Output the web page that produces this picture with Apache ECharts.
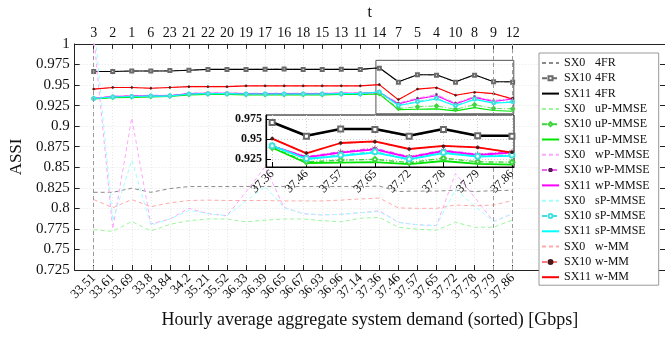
<!DOCTYPE html>
<html><head><meta charset="utf-8">
<script src="https://cdn.jsdelivr.net/npm/echarts@6/dist/echarts.min.js"></script>
<style>html,body{margin:0;padding:0;background:#fff}#c{width:665px;height:337px}</style>
</head><body><div id="c"></div>
<script>
// ---------- data ----------
const demand = ['33.51','33.61','33.69','33.8','33.84','34.2','35.21','35.52','36.33','36.39','36.65','36.67','36.93','36.96','37.14','37.36','37.46','37.57','37.65','37.72','37.78','37.79','37.86'];
const hours = [3,2,1,6,23,21,22,20,19,17,16,18,15,13,11,14,7,5,4,10,8,9,12];
const yTicks = [0.925, 0.95, 0.975];          // inset y tick labels
const markedIdx = [1, 22, 23];                 // dashed vertical markers (category number)
const zoomFrom = 16;                           // first category shown in inset
const zoomY = [0.915, 0.98];                   // inset y limits

const sx0_4FR  = [0.8195,0.8195,0.8245,0.8195,0.824,0.8265,0.8265,0.8265,0.8265,0.8265,0.8265,0.8265,0.8265,0.8265,0.8265,0.827,0.8205,0.821,0.821,0.822,0.8205,0.8215,0.822];
const sx10_4FR = [0.9665,0.9665,0.967,0.967,0.9675,0.968,0.969,0.969,0.969,0.9692,0.9695,0.969,0.969,0.9692,0.969,0.9705,0.9535,0.9625,0.962,0.9535,0.962,0.954,0.9535];
const sx11_4FR = [0.9665,0.9665,0.967,0.967,0.967,0.968,0.969,0.969,0.969,0.969,0.969,0.969,0.969,0.969,0.969,0.971,0.954,0.9625,0.9625,0.954,0.9625,0.954,0.954];

const sx0_uP  = [0.774,0.772,0.784,0.7725,0.7805,0.785,0.787,0.787,0.7836,0.7856,0.787,0.787,0.785,0.7836,0.788,0.789,0.777,0.7745,0.7735,0.783,0.777,0.777,0.786];
const sx10_uP = [0.9335,0.935,0.9355,0.936,0.9365,0.9385,0.939,0.939,0.9385,0.9385,0.9385,0.9385,0.9385,0.939,0.939,0.9395,0.9215,0.9235,0.9245,0.9205,0.926,0.9215,0.921];
const sx11_uP = [0.933,0.9345,0.935,0.9355,0.936,0.938,0.9385,0.9385,0.938,0.938,0.938,0.938,0.938,0.9385,0.9385,0.939,0.920,0.9205,0.921,0.9185,0.9225,0.919,0.918];

const sx0_wP  = [1.01,0.775,0.910,0.781,0.787,0.800,0.7935,0.791,0.820,0.8505,0.801,0.7935,0.792,0.7928,0.7947,0.797,0.783,0.780,0.779,0.8425,0.8135,0.784,0.7935];
const sx10_wP = [0.934,0.9365,0.937,0.9375,0.9375,0.940,0.9405,0.9405,0.940,0.940,0.940,0.940,0.940,0.9405,0.9405,0.9415,0.928,0.934,0.9385,0.928,0.936,0.931,0.934];
const sx11_wP = [0.9335,0.936,0.9365,0.937,0.937,0.9395,0.940,0.940,0.9395,0.9395,0.9395,0.9395,0.9395,0.940,0.940,0.941,0.927,0.933,0.937,0.927,0.935,0.930,0.933];

const sx0_sP  = [1.03,0.785,0.8585,0.7795,0.787,0.7975,0.7935,0.791,0.809,0.8265,0.801,0.7935,0.792,0.7928,0.7947,0.796,0.783,0.780,0.779,0.8227,0.803,0.784,0.7935];
const sx10_sP = [0.9335,0.9355,0.936,0.9365,0.937,0.939,0.9395,0.9395,0.939,0.939,0.939,0.939,0.939,0.9395,0.9395,0.9415,0.9255,0.930,0.934,0.925,0.933,0.9285,0.930];
const sx11_sP = [0.9335,0.9355,0.936,0.9365,0.9365,0.939,0.9395,0.9395,0.939,0.939,0.939,0.939,0.939,0.9395,0.9395,0.9415,0.925,0.929,0.933,0.9245,0.9325,0.928,0.929];

const sx0_wMM  = [0.8107,0.8007,0.8107,0.802,0.8067,0.8095,0.810,0.8095,0.8095,0.8095,0.809,0.809,0.809,0.810,0.8115,0.8125,0.8005,0.800,0.800,0.804,0.803,0.804,0.8095];
const sx10_wMM = [0.945,0.947,0.947,0.946,0.947,0.948,0.948,0.948,0.949,0.949,0.949,0.949,0.949,0.949,0.949,0.9505,0.9325,0.945,0.9465,0.9375,0.941,0.9395,0.9335];
const sx11_wMM = [0.945,0.947,0.947,0.946,0.947,0.948,0.948,0.948,0.949,0.949,0.949,0.949,0.949,0.949,0.949,0.9505,0.932,0.945,0.947,0.9375,0.9415,0.9395,0.933];

// ---------- chart ----------
const FONT = 'Liberation Serif';
const cats = demand.map((_, i) => i + 1);
const insetIdx = demand.slice(zoomFrom - 1).map((_, i) => i);
const ASTER = 'path://M5,0L5,10M0.67,2.5L9.33,7.5M0.67,7.5L9.33,2.5';
const groups = [
  {m:'4FR',     arr:[sx0_4FR, sx10_4FR, sx11_4FR], col:['#8a8a8a','#6a6a6a','#000000'], mk:'#333', sym:'emptyRect'},
  {m:'uP-MMSE', arr:[sx0_uP,  sx10_uP,  sx11_uP],  col:['#9cf79c','#3bd63b','#00e600'], mk:'#1d6a1d', sym:'emptyDiamond'},
  {m:'wP-MMSE', arr:[sx0_wP,  sx10_wP,  sx11_wP],  col:['#ffa6ff','#f060f0','#ff00ff'], mk:'#5a1a5a', sym:ASTER},
  {m:'sP-MMSE', arr:[sx0_sP,  sx10_sP,  sx11_sP],  col:['#a0ffff','#40e0e0','#00ffff'], mk:'#1a4a4a', sym:'emptyCircle'},
  {m:'w-MM',    arr:[sx0_wMM, sx10_wMM, sx11_wMM], col:['#ffaaaa','#ff7a7a','#ff0000'], mk:'#4a1a1a', sym:'circle'}
];
const variants = ['SX0','SX10','SX11'];
const series = [];
const legendData = [];
groups.forEach(g => {
  variants.forEach((v, vi) => {
    const name = v + ' ' + g.m;
    legendData.push(vi === 1 ? {name} : {name, itemStyle:{opacity:0}});
    const base = {
      name, type:'line', animation:false, silent:true, clip:true,
      xAxisIndex:0, yAxisIndex:0,
      data: g.arr[vi].map((y, i) => [cats[i], y])
    };
    if (vi === 0) {
      Object.assign(base, {symbol:'none', lineStyle:{color:g.col[0], width:1, type:[4,3]}, itemStyle:{color:g.col[0]}});
    } else if (vi === 1) {
      Object.assign(base, {symbol:g.sym, symbolSize: g.m==='w-MM'?2:3, showSymbol:true,
        lineStyle:{color:g.col[1], width:0.8, type:[5,2,1,2]},
        itemStyle:{color: g.m==='w-MM'? g.mk : g.col[1], borderColor:g.mk, borderWidth:0.7}});
    } else {
      Object.assign(base, {symbol:'none', lineStyle:{color:g.col[2], width:1.1}, itemStyle:{color:g.col[2]}});
    }
    series.push(base);
    if (vi > 0) {
      const ins = JSON.parse(JSON.stringify(base));
      ins.data = g.arr[vi].slice(zoomFrom - 1).map((y, i) => [insetIdx[i], y]);
      ins.xAxisIndex = 2; ins.yAxisIndex = 2; ins.z = 12;
      ins.lineStyle.width = vi === 2 ? (g.m === '4FR' ? 2.6 : 1.8) : 1.4;
      if (vi === 1) ins.symbolSize = g.m==='w-MM'?3:5;
      series.push(ins);
    }
  });
});
// dashed vertical markers and zoom rectangle on first series
series[0].markLine = {silent:true, symbol:['none','none'], label:{show:false},
  lineStyle:{color:'#9a9a9a', type:[4,3], width:1},
  data: markedIdx.map(k => ({xAxis:k}))};
series[0].markArea = {silent:true, itemStyle:{color:'rgba(0,0,0,0)', borderColor:'#555', borderWidth:1},
  data:[[{xAxis: zoomFrom - 0.18, yAxis: zoomY[0]}, {xAxis: cats[cats.length-1] + 0.06, yAxis: zoomY[1]}]]};

const tickInside = {show:true, inside:true, length:5, lineStyle:{color:'#222'}};
const gridLine = {show:true, lineStyle:{color:'#e6e6e6', type:[1,2], width:1}};

const option = {
  animation:false,
  backgroundColor:'#fff',
  grid:[
    {left:63, top:39, width:604, height:231, show:false},
    {left:266, top:115, width:248, height:52, show:true, backgroundColor:'#fff', borderColor:'#000', borderWidth:1, z:10}
  ],
  xAxis:[
    {type:'value', gridIndex:0, min:0, max:31, position:'bottom',
     name:'Hourly average aggregate system demand (sorted) [Gbps]', nameLocation:'middle', nameGap:41,
     nameTextStyle:{fontFamily:FONT, fontSize:18, color:'#111'},
     axisLine:{show:true, onZero:false, lineStyle:{color:'#222'}},
     axisTick:Object.assign({customValues:cats}, tickInside),
     splitLine:Object.assign({customValues:cats}, gridLine),
     axisLabel:{customValues:cats, formatter:v => demand[v-1], rotate:45, margin:6, fontFamily:FONT, fontSize:13, color:'#111'}},
    {type:'value', gridIndex:0, min:0, max:31, position:'top',
     name:'t', nameLocation:'middle', nameGap:22,
     nameTextStyle:{fontFamily:FONT, fontSize:16, color:'#111'},
     axisLine:{show:true, onZero:false, lineStyle:{color:'#222'}},
     axisTick:Object.assign({customValues:cats}, tickInside),
     splitLine:{show:false},
     axisLabel:{customValues:cats, formatter:v => String(hours[v-1]), margin:4, fontFamily:FONT, fontSize:14, color:'#111'}},
    {type:'value', gridIndex:1, min:-0.18, max:insetIdx.length - 1 + 0.06, position:'bottom', z:11,
     axisLine:{show:true, onZero:false, lineStyle:{color:'#000', width:1.2}},
     axisTick:Object.assign({customValues:insetIdx}, tickInside, {lineStyle:{color:'#000'}}),
     splitLine:{show:true, customValues:insetIdx, lineStyle:{color:'#cfcfcf', type:[1,2]}},
     axisLabel:{customValues:insetIdx, formatter:v => demand[zoomFrom-1+v], rotate:45, margin:5, fontFamily:FONT, fontSize:12, color:'#111'}}
  ],
  yAxis:[
    {type:'value', gridIndex:0, min:0.725, max:1, interval:0.025, position:'left',
     name:'ASSI', nameLocation:'middle', nameGap:43, nameRotate:90,
     nameTextStyle:{fontFamily:FONT, fontSize:17, color:'#111'},
     axisLine:{show:true, onZero:false, lineStyle:{color:'#222'}},
     axisTick:tickInside, splitLine:gridLine,
     axisLabel:{formatter:v => String(+v.toFixed(3)), margin:5, fontFamily:FONT, fontSize:15, color:'#111'}},
    {type:'value', gridIndex:0, min:0.725, max:1, interval:0.025, position:'right',
     axisLine:{show:true, onZero:false, lineStyle:{color:'#222'}},
     axisTick:tickInside, splitLine:{show:false}, axisLabel:{show:false}},
    {type:'value', gridIndex:1, min:zoomY[0], max:zoomY[1], position:'left', z:11,
     axisLine:{show:true, onZero:false, lineStyle:{color:'#000', width:1.2}},
     axisTick:Object.assign({customValues:yTicks}, tickInside, {lineStyle:{color:'#000'}}),
     splitLine:{show:true, customValues:yTicks, lineStyle:{color:'#cfcfcf', type:[1,2]}},
     axisLabel:{customValues:yTicks, formatter:v => String(+v.toFixed(3)), margin:4, fontFamily:FONT, fontSize:12, fontWeight:'bold', color:'#111'}}
  ],
  legend:{
    data:legendData, orient:'vertical', left:539, top:53,
    padding:[4,9,2,2], itemGap:3.3, itemWidth:17, itemHeight:5,
    backgroundColor:'#fff', borderColor:'#9a9a9a', borderWidth:1, borderRadius:0,
    selectedMode:false, z:20,
    formatter: n => { const p = n.split(' '); return '{a|' + p[0] + '}{b|' + p[1] + '}'; },
    textStyle:{fontFamily:FONT, fontSize:12, color:'#111', lineHeight:10,
      rich:{a:{width:31, fontFamily:FONT, fontSize:12, lineHeight:10, color:'#111'},
            b:{fontFamily:FONT, fontSize:12, lineHeight:10, color:'#111'}}}
  },
  series
};
const chart = echarts.init(document.getElementById('c'), null, {renderer:'canvas'});
chart.setOption(option);
</script>
</body></html>
